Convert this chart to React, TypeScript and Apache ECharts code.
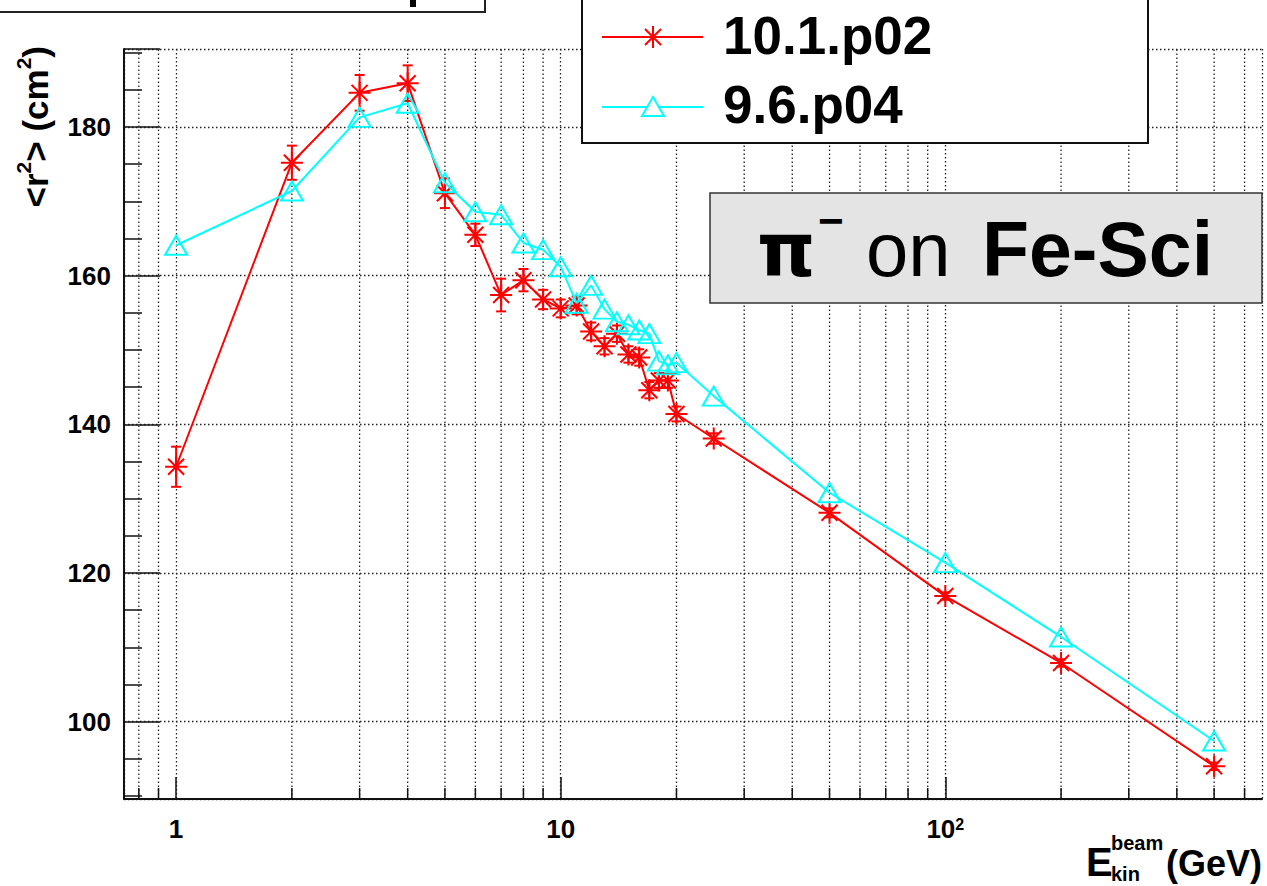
import React, { useEffect, useRef } from 'react';
import * as echarts from 'echarts';

// ---- data ----
const energies = [1, 2, 3, 4, 5, 6, 7, 8, 9, 10, 11, 12, 13, 14, 15, 16, 17, 18, 19, 20, 25, 50, 100, 200, 500];
const r2_v101 = [134.3, 175.2, 184.6, 185.9, 171.1, 165.5, 157.4, 159.4, 156.8, 155.6, 156.0, 152.5, 150.5, 152.2, 149.4, 149.0, 144.6, 145.9, 145.9, 141.4, 138.1, 128.1, 116.9, 107.9, 94.0];
const r2_v101_err = [2.7, 2.3, 2.4, 2.4, 2.0, 1.5, 2.2, 1.5, 1.3, 1.2, 1.2, 1.2, 1.1, 1.1, 1.1, 1.1, 1.1, 1.0, 1.0, 1.0, 0.7, 0.6, 0.5, 0.5, 0.5];
const r2_v96 = [164.1, 171.4, 181.3, 183.2, 172.5, 168.6, 168.2, 164.4, 163.5, 161.2, 156.3, 158.7, 155.5, 153.8, 153.4, 152.7, 152.2, 148.5, 148.0, 148.3, 143.8, 130.8, 121.4, 111.4, 97.4];
const seriesNames = ['10.1.p02', '9.6.p04'];
const xMinorTicks = [0.8, 0.9, 2, 3, 4, 5, 6, 7, 8, 9, 20, 30, 40, 50, 60, 70, 80, 90, 200, 300, 400, 500, 600];
const xTickLabels: Record<string, string> = { '1': '1', '10': '10', '100': '10{s|2}' };
const xRange = [0.732, 666];
const yRange = [89.6, 190.5];

const RED = '#ff0000';
const CYAN = '#00ffff';
const GRID = '#222';
const FONT = '"Liberation Sans", Arial, Helvetica, sans-serif';
const STAR = 'path://M-11 0 L11 0 M0 -11 L0 11 M-8 -8 L8 8 M-8 8 L8 -8';
const TRI = 'path://M0 -10 L11 9 L-11 9 Z';

// alphabetic baseline -> centre of em box (Liberation Sans metrics)
const mid = (baseline: number, size: number) => baseline - 0.3465 * size;

export default function App() {
  const ref = useRef<HTMLDivElement>(null);
  useEffect(() => {
    if (!ref.current) return;
    const chart = echarts.init(ref.current, undefined, { renderer: 'svg' });

    const lx1 = 602, lx2 = 703, lmx = 653;
    const star = (cx: number, cy: number) => {
      const s = 11, d = 8;
      return [
        [cx - s, cy, cx + s, cy],
        [cx, cy - s, cx, cy + s],
        [cx - d, cy - d, cx + d, cy + d],
        [cx - d, cy + d, cx + d, cy - d],
      ].map((p) => ({
        type: 'line',
        z: 102,
        shape: { x1: p[0], y1: p[1], x2: p[2], y2: p[3] },
        style: { stroke: RED, lineWidth: 2 },
      }));
    };
    const txt = (text: string, x: number, baseline: number, size: number, bold: boolean, align = 'left', family = FONT) => ({
      type: 'text',
      z: 101,
      x,
      y: mid(baseline, size),
      style: {
        text,
        font: `${bold ? 'bold ' : ''}${size}px ${family}`,
        fill: '#000',
        textAlign: align,
        textVerticalAlign: 'middle',
      },
    });

    const option: any = {
      animation: false,
      backgroundColor: '#ffffff',
      grid: { left: 124, right: 5, top: 49, bottom: 87, show: false },
      xAxis: {
        type: 'log',
        logBase: 10,
        min: xRange[0],
        max: xRange[1],
        axisLine: { show: true, onZero: false, lineStyle: { color: '#111', width: 2 } },
        axisTick: { show: true, inside: true, length: 22, lineStyle: { color: '#111', width: 1.5 } },
        axisLabel: {
          showMinLabel: false,
          showMaxLabel: false,
          margin: 17,
          color: '#000',
          fontSize: 26,
          fontWeight: 'bold',
          fontFamily: FONT,
          formatter: (v: number) => xTickLabels[String(Math.round(v))] ?? '',
          rich: { s: { fontSize: 16, fontWeight: 'bold', fontFamily: FONT, color: '#000', verticalAlign: 'top', lineHeight: 14 } },
        },
        splitLine: { show: true, lineStyle: { color: GRID, width: 1.3, type: [1.5, 2.5] } },
      },
      yAxis: {
        type: 'value',
        min: yRange[0],
        max: yRange[1],
        splitNumber: 5,
        axisLine: { show: true, lineStyle: { color: '#111', width: 2 } },
        axisTick: { show: true, inside: true, length: 36, lineStyle: { color: '#111', width: 1.5 } },
        minorTick: { show: true, splitNumber: 4, length: 18, lineStyle: { color: '#111', width: 1.5 } },
        axisLabel: {
          showMinLabel: false,
          showMaxLabel: false,
          margin: 13,
          color: '#000',
          fontSize: 26,
          fontWeight: 'bold',
          fontFamily: FONT,
        },
        splitLine: { show: true, lineStyle: { color: GRID, width: 1.3, type: [1.5, 2.5] } },
      },
      series: [
        {
          type: 'custom',
          name: 'minor grid',
          silent: true,
          z: 1,
          data: xMinorTicks.map((v) => [v, yRange[0]]),
          encode: { x: 0, y: 1 },
          renderItem: (_p: any, api: any) => {
            const x = api.value(0);
            const b = api.coord([x, yRange[0]]);
            const t = api.coord([x, yRange[1]]);
            return {
              type: 'group',
              children: [
                { type: 'line', shape: { x1: b[0], y1: b[1], x2: t[0], y2: t[1] }, style: { stroke: GRID, lineWidth: 1.3, lineDash: [1.5, 2.5] } },
                { type: 'line', shape: { x1: b[0], y1: b[1], x2: b[0], y2: b[1] - 11 }, style: { stroke: '#111', lineWidth: 1.5 } },
              ],
            };
          },
        },
        {
          type: 'custom',
          name: 'errors',
          silent: true,
          z: 3,
          data: energies.map((e, i) => [e, r2_v101[i], r2_v101_err[i]]),
          encode: { x: 0, y: 1 },
          renderItem: (_p: any, api: any) => {
            const x = api.value(0), y = api.value(1), e = api.value(2);
            const t = api.coord([x, y + e]);
            const b = api.coord([x, y - e]);
            const w = 5;
            const st = { stroke: RED, lineWidth: 2 };
            return {
              type: 'group',
              children: [
                { type: 'line', shape: { x1: t[0], y1: t[1], x2: b[0], y2: b[1] }, style: st },
                { type: 'line', shape: { x1: t[0] - w, y1: t[1], x2: t[0] + w, y2: t[1] }, style: st },
                { type: 'line', shape: { x1: b[0] - w, y1: b[1], x2: b[0] + w, y2: b[1] }, style: st },
              ],
            };
          },
        },
        {
          type: 'line',
          name: seriesNames[0],
          z: 4,
          data: energies.map((e, i) => [e, r2_v101[i]]),
          symbol: STAR,
          symbolSize: 22,
          symbolKeepAspect: true,
          itemStyle: { color: 'rgba(0,0,0,0)', borderColor: RED, borderWidth: 2 },
          lineStyle: { color: RED, width: 2 },
        },
        {
          type: 'line',
          name: seriesNames[1],
          z: 5,
          data: energies.map((e, i) => [e, r2_v96[i]]),
          symbol: TRI,
          symbolSize: [22, 19],
          itemStyle: { color: 'rgba(0,0,0,0)', borderColor: CYAN, borderWidth: 2 },
          lineStyle: { color: CYAN, width: 2 },
        },
      ],
      graphic: [
        // cut-off box at the top left
        { type: 'rect', z: 100, shape: { x: -10, y: -30, width: 495, height: 42 }, style: { fill: '#fff', stroke: '#222', lineWidth: 2 } },
        { type: 'rect', z: 101, shape: { x: 410, y: 0, width: 6, height: 7 }, style: { fill: '#000' } },
        // legend box
        { type: 'rect', z: 100, shape: { x: 582, y: -30, width: 566, height: 173 }, style: { fill: '#fff', stroke: '#111', lineWidth: 2 } },
        { type: 'line', z: 101, shape: { x1: lx1, y1: 37, x2: lx2, y2: 37 }, style: { stroke: RED, lineWidth: 2 } },
        ...star(lmx, 37),
        { type: 'text', z: 101, x: 723, y: 35, style: { text: seriesNames[0], font: `bold 53px ${FONT}`, fill: '#000', textAlign: 'left', textVerticalAlign: 'middle' } },
        { type: 'line', z: 101, shape: { x1: lx1, y1: 107, x2: lx2, y2: 107 }, style: { stroke: CYAN, lineWidth: 2 } },
        { type: 'polygon', z: 102, shape: { points: [[lmx, 97], [lmx + 11, 116], [lmx - 11, 116]] }, style: { fill: '#fff', stroke: CYAN, lineWidth: 2 } },
        { type: 'text', z: 101, x: 723, y: 104, style: { text: seriesNames[1], font: `bold 53px ${FONT}`, fill: '#000', textAlign: 'left', textVerticalAlign: 'middle' } },
        // particle / target box
        { type: 'rect', z: 100, shape: { x: 710, y: 193, width: 552, height: 110 }, style: { fill: '#e4e4e4', stroke: '#333', lineWidth: 1.5 } },
        txt('π', 757, 276, 74, true, 'left', '"DejaVu Sans", sans-serif'),
        txt('−', 818, 236, 44, true),
        txt('on', 866, 276, 76, false),
        txt('Fe-Sci', 982, 276, 77, true),
        // y-axis title
        {
          type: 'text', z: 101, x: 35, y: 46, rotation: Math.PI / 2,
          style: {
            text: '<r{s|2}> (cm{s|2})',
            font: `bold 35px ${FONT}`,
            fill: '#000',
            textAlign: 'right',
            textVerticalAlign: 'middle',
            lineHeight: 44,
            rich: { s: { fontSize: 21, fontWeight: 'bold', fontFamily: FONT, verticalAlign: 'top', lineHeight: 20 } },
          },
        },
        // x-axis title
        txt('E', 1086, 876, 40, true),
        txt('beam', 1111, 850, 20, true),
        txt('kin', 1111, 881, 20, true),
        txt('(GeV)', 1262, 876, 36, true, 'right'),
      ],
    };
    chart.setOption(option);
    return () => chart.dispose();
  }, []);
  return <div ref={ref} style={{ position: 'fixed', left: 0, top: 0, width: 1267, height: 886 }} />;
}
